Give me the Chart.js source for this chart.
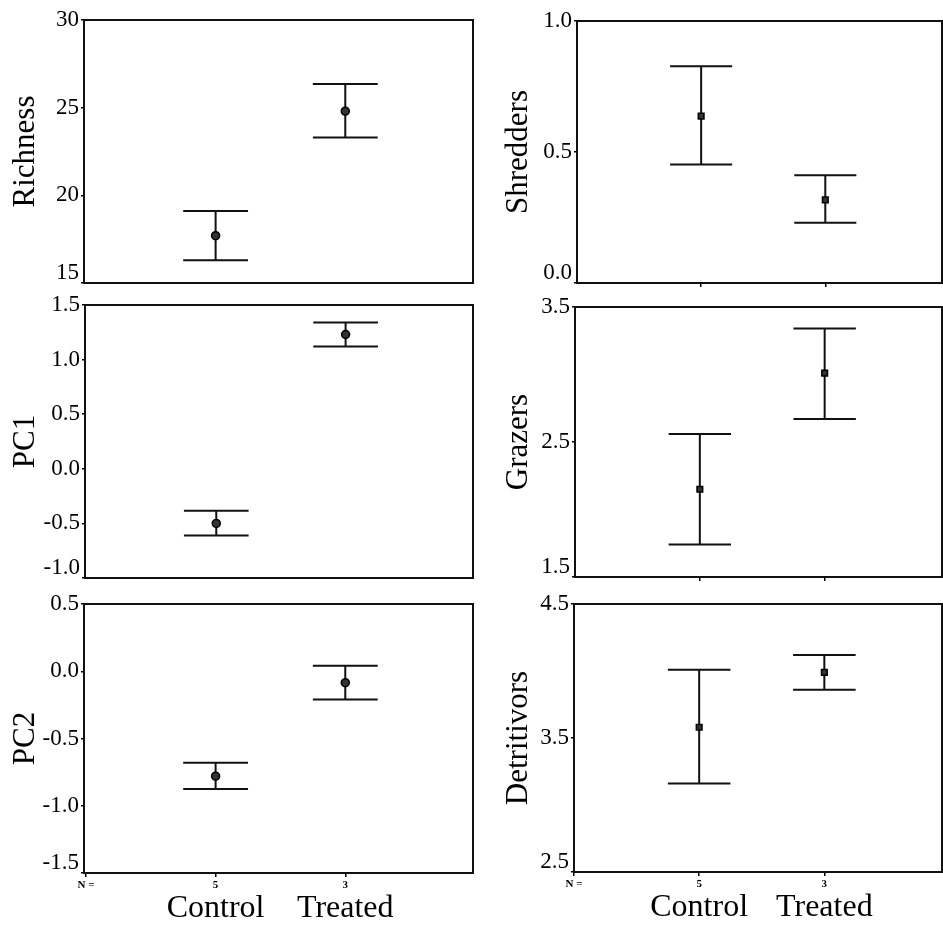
<!DOCTYPE html>
<html><head><meta charset="utf-8">
<script src="https://cdn.jsdelivr.net/npm/chart.js@4/dist/chart.umd.min.js"></script>
<style>
html,body{margin:0;padding:0;background:#fff;}
#wrap{position:relative;width:943px;height:927px;overflow:hidden;background:#fff;}
canvas{position:absolute;left:0;top:0;}
</style></head><body><div id="wrap">
<canvas id="c1"></canvas><canvas id="c2"></canvas><canvas id="c3"></canvas>
<canvas id="c4"></canvas><canvas id="c5"></canvas><canvas id="c6"></canvas>
</div>
<script>
// ---- data ----
const groups = ['Control', 'Treated'];
const groupN = ['5', '3'];
const groupX = [1, 2];

const richnessMean = [17.7, 24.8];
const richnessLow  = [16.3, 23.3];
const richnessHigh = [19.1, 26.35];
const richnessTicks = [15, 20, 25, 30];

const pc1Mean = [-0.5, 1.23];
const pc1Low  = [-0.61, 1.12];
const pc1High = [-0.385, 1.34];
const pc1Ticks = [-1.0, -0.5, 0.0, 0.5, 1.0, 1.5];

const pc2Mean = [-0.78, -0.085];
const pc2Low  = [-0.875, -0.21];
const pc2High = [-0.68, 0.04];
const pc2Ticks = [-1.5, -1.0, -0.5, 0.0, 0.5];

const shreddersMean = [0.637, 0.317];
const shreddersLow  = [0.452, 0.23];
const shreddersHigh = [0.827, 0.411];
const shreddersTicks = [0.0, 0.5, 1.0];

const grazersMean = [2.15, 3.01];
const grazersLow  = [1.74, 2.67];
const grazersHigh = [2.56, 3.34];
const grazersTicks = [1.5, 2.5, 3.5];

const detritivorsMean = [3.58, 3.99];
const detritivorsLow  = [3.16, 3.86];
const detritivorsHigh = [4.01, 4.12];
const detritivorsTicks = [2.5, 3.5, 4.5];

// ---- drawing ----
const FONT = "'Liberation Serif', 'DejaVu Serif', serif";
const W = 943, H = 927;

function makeErrorBars(p) {
  return {
    id: 'errorBars_' + p.id,
    beforeDatasetsDraw(chart) {
      const {ctx, chartArea: a, scales: {x, y}} = chart;
      ctx.save();
      ctx.strokeStyle = '#111';
      ctx.lineWidth = 2;
      ctx.strokeRect(a.left, a.top, a.right - a.left, a.bottom - a.top);
      ctx.lineWidth = 2;
      p.low.forEach((lo, i) => {
        const px = x.getPixelForValue(groupX[i]);
        const half = x.getPixelForValue(groupX[i] + 0.25) - px;
        const yl = y.getPixelForValue(lo);
        const yh = y.getPixelForValue(p.high[i]);
        ctx.beginPath();
        ctx.moveTo(px, yl); ctx.lineTo(px, yh);
        ctx.moveTo(px - half, yl); ctx.lineTo(px + half, yl);
        ctx.moveTo(px - half, yh); ctx.lineTo(px + half, yh);
        ctx.stroke();
      });
      ctx.restore();
    }
  };
}

const panels = [
  {id:'c1', title:'Richness', mean:richnessMean, low:richnessLow, high:richnessHigh, ticks:richnessTicks, dec:0,
   area:[84,20,473,283], yW:84, padL:0, tPad:10, xMin:-0.015, xMax:2.985, xMarks:false, bottom:false, ps:'circle'},
  {id:'c2', title:'PC1', mean:pc1Mean, low:pc1Low, high:pc1High, ticks:pc1Ticks, dec:1,
   area:[85,305,473,578], yW:85, padL:0, tPad:10, xMin:-0.015, xMax:2.985, xMarks:false, bottom:false, ps:'circle'},
  {id:'c3', title:'PC2', mean:pc2Mean, low:pc2Low, high:pc2High, ticks:pc2Ticks, dec:1,
   area:[84,604,473,873], yW:84, padL:0, tPad:10, xMin:-0.015, xMax:2.985, xMarks:true, bottom:true, ps:'circle'},
  {id:'c4', title:'Shredders', mean:shreddersMean, low:shreddersLow, high:shreddersHigh, ticks:shreddersTicks, dec:1,
   area:[577,21,942,283], yW:97, padL:480, tPad:23, xMin:0, xMax:2.94, xMarks:true, bottom:false, ps:'rect'},
  {id:'c5', title:'Grazers', mean:grazersMean, low:grazersLow, high:grazersHigh, ticks:grazersTicks, dec:1,
   area:[575,307,942,577], yW:95, padL:480, tPad:23, xMin:0, xMax:2.94, xMarks:true, bottom:false, ps:'rect'},
  {id:'c6', title:'Detritivors', mean:detritivorsMean, low:detritivorsLow, high:detritivorsHigh, ticks:detritivorsTicks, dec:1,
   area:[574,604,942,872], yW:94, padL:480, tPad:23, xMin:0, xMax:2.94, xMarks:true, bottom:true, ps:'rect'}
];

panels.forEach(p => {
  const cv = document.getElementById(p.id);
  cv.width = W; cv.height = H;
  const [L, T, R, B] = p.area;
  const xH = p.bottom ? 16 : (p.xMarks ? 5 : 0);
  const x2H = p.bottom ? H - B - xH : 0;
  const xTickVals = p.bottom ? [0].concat(groupX) : groupX;
  const scales = {
    x: {
      type: 'linear', position: 'bottom', min: p.xMin, max: p.xMax, weight: 0,
      afterBuildTicks: ax => { ax.ticks = xTickVals.map(v => ({value: v})); },
      afterFit: ax => { ax.height = xH; },
      ticks: {
        display: p.bottom, autoSkip: false, maxRotation: 0, padding: 3, color: '#000',
        font: {family: FONT, size: 11, weight: 'bold', lineHeight: 1},
        callback: v => v === 0 ? 'N =' : groupN[groupX.indexOf(v)]
      },
      grid: {display: p.xMarks, drawOnChartArea: false, drawTicks: true, tickLength: 4, color: '#000', lineWidth: 1.5},
      border: {display: false}
    },
    y: {
      type: 'linear', min: p.ticks[0], max: p.ticks[p.ticks.length - 1],
      afterBuildTicks: ax => { ax.ticks = p.ticks.map(v => ({value: v})); },
      afterFit: ax => { ax.width = p.yW; },
      ticks: {
        padding: 2, color: '#000', font: {family: FONT, size: 23, lineHeight: 0.9},
        callback: (v, i) => {
          const s = p.dec === 0 ? String(v) : Number(v).toFixed(p.dec);
          return i === 0 ? [s, ''] : s;
        }
      },
      grid: {drawOnChartArea: false, drawTicks: true, tickLength: 3, color: '#000', lineWidth: 1.5},
      border: {display: false},
      title: {display: true, text: p.title, color: '#000', font: {family: FONT, size: 31, lineHeight: 1}, padding: {top: p.tPad, bottom: 0}}
    }
  };
  if (p.bottom) {
    scales.x2 = {
      type: 'linear', position: 'bottom', axis: 'x', min: p.xMin, max: p.xMax, weight: 1,
      afterBuildTicks: ax => { ax.ticks = groupX.map(v => ({value: v})); },
      afterFit: ax => { ax.height = x2H; },
      ticks: {
        autoSkip: false, maxRotation: 0, padding: -4, color: '#000',
        font: {family: FONT, size: 32, lineHeight: 1},
        callback: v => groups[groupX.indexOf(v)]
      },
      grid: {display: false},
      border: {display: false}
    };
  }
  new Chart(cv, {
    type: 'scatter',
    data: {datasets: [{
      data: groupX.map((gx, i) => ({x: gx, y: p.mean[i]})),
      pointStyle: p.ps, pointRadius: 4, pointBackgroundColor: '#333', pointBorderColor: '#000', pointBorderWidth: 1.5
    }]},
    options: {
      responsive: false, animation: false, events: [],
      layout: {autoPadding: false, padding: {left: p.padL, top: T, right: W - R, bottom: p.bottom ? 0 : H - B - xH}},
      plugins: {legend: {display: false}, tooltip: {enabled: false}},
      scales
    },
    plugins: [makeErrorBars(p)]
  });
});
</script>
</body></html>
